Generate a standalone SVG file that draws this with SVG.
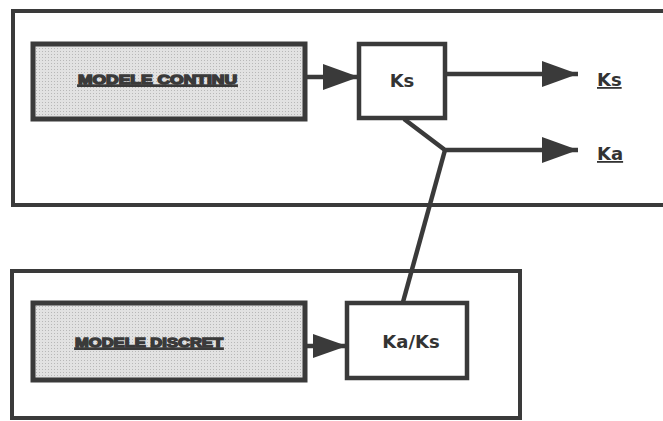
<svg xmlns="http://www.w3.org/2000/svg" width="663" height="421" viewBox="0 0 663 421">
<defs>
<pattern id="dots" width="3" height="3" patternUnits="userSpaceOnUse">
<rect width="3" height="3" fill="#e2e2e2"/>
<rect width="1" height="1" fill="#b8b8b8"/>
</pattern>
<marker id="ah" viewBox="0 0 36 28" refX="36" refY="14" markerWidth="36" markerHeight="28" markerUnits="userSpaceOnUse" orient="auto">
<path d="M0,1 L36,14 L0,27 Z" fill="#3a3a3a"/>
</marker>
<marker id="ah2" viewBox="0 0 34 26" refX="34" refY="13" markerWidth="34" markerHeight="26" markerUnits="userSpaceOnUse" orient="auto">
<path d="M0,1 L34,13 L0,25 Z" fill="#3a3a3a"/>
</marker>
</defs>
<style>
.frame{fill:none;stroke:#3a3a3a;stroke-width:4}
.grey{fill:url(#dots);stroke:#3a3a3a;stroke-width:5}
.box{fill:#fff;stroke:#3a3a3a;stroke-width:4.5}
.wire{fill:none;stroke:#3a3a3a;stroke-width:4.5}
.lbl{font-family:"DejaVu Sans","Liberation Sans",sans-serif;font-weight:bold;fill:#333;text-anchor:middle}
.glbl{font-family:"Liberation Sans",sans-serif;font-weight:bold;font-size:13px;fill:#3a3a3a;stroke:#3a3a3a;stroke-width:1.4;text-decoration:underline}
.out{font-family:"DejaVu Sans","Liberation Sans",sans-serif;font-weight:bold;font-size:18px;fill:#333;text-decoration:underline}
</style>
<rect x="0" y="0" width="663" height="421" fill="#fff"/>
<g id="frame-continu"><rect class="frame" x="13" y="11" width="665" height="194"/></g>
<g id="frame-discret"><rect class="frame" x="12" y="271" width="508" height="147"/></g>
<g id="modele-continu">
<rect class="grey" x="33" y="44" width="272" height="75"/>
<text class="glbl" x="78" y="84" textLength="159" lengthAdjust="spacingAndGlyphs">MODELE CONTINU</text>
</g>
<g id="ks-box">
<rect class="box" x="359" y="44" width="86" height="74"/>
<text class="lbl" x="402" y="87" font-size="18">Ks</text>
</g>
<g id="modele-discret">
<rect class="grey" x="33" y="303" width="272" height="77"/>
<text class="glbl" x="75" y="347" textLength="148" lengthAdjust="spacingAndGlyphs">MODELE DISCRET</text>
</g>
<g id="kaks-box">
<rect class="box" x="347" y="303" width="120" height="75"/>
<text class="lbl" x="411" y="348" font-size="18">Ka/Ks</text>
</g>
<g id="out-ks"><text class="out" x="597" y="86">Ks</text></g>
<g id="out-ka"><text class="out" x="597" y="160">Ka</text></g>
<g id="connectors">
<line class="wire" x1="305" y1="77" x2="359" y2="77" marker-end="url(#ah)"/>
<line class="wire" x1="445" y1="74" x2="578" y2="74" marker-end="url(#ah)"/>
<polyline class="wire" points="404,119 445,150 578,150" marker-end="url(#ah)"/>
<line class="wire" x1="445" y1="150" x2="403" y2="302"/>
<line class="wire" x1="305" y1="346" x2="347" y2="346" marker-end="url(#ah2)"/>
</g>
</svg>
